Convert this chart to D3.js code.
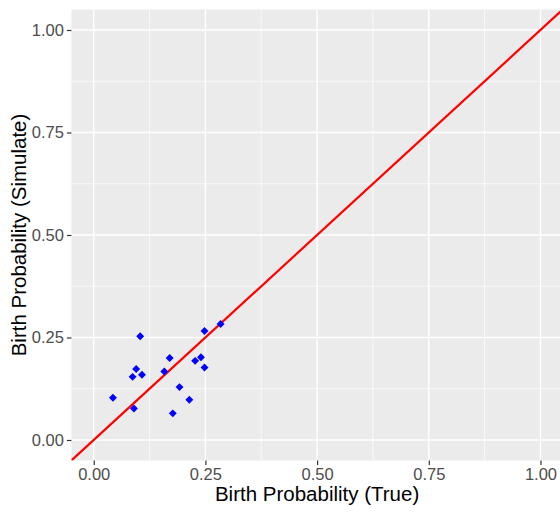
<!DOCTYPE html>
<html>
<head>
<meta charset="utf-8">
<script src="https://cdn.jsdelivr.net/npm/d3@7"></script>
<style>
  body { margin: 0; background: #fff; }
  text { font-family: "Liberation Sans", Arial, Helvetica, sans-serif; }
</style>
</head>
<body>
<div id="chart"></div>
<script>
// birth probability: true vs simulated
const trueProb = [0.043, 0.090, 0.104, 0.095, 0.087, 0.108, 0.170, 0.158, 0.192, 0.177, 0.214, 0.248, 0.284, 0.227, 0.240, 0.248];
const simProb  = [0.103, 0.077, 0.253, 0.173, 0.154, 0.159, 0.200, 0.167, 0.129, 0.065, 0.098, 0.266, 0.283, 0.193, 0.202, 0.177];
const tickValues = [0, 0.25, 0.5, 0.75, 1];
const minorValues = [0.125, 0.375, 0.625, 0.875];

const width = 560, height = 512;
const svg = d3.select("#chart").append("svg")
  .attr("width", width)
  .attr("height", height);

const x = d3.scaleLinear().domain([-0.05, 1.05]).range([71.4, 562.8]);
const y = d3.scaleLinear().domain([-0.05, 1.05]).range([460.5, 9.5]);

const panel = svg.append("g");
panel.append("rect")
  .attr("x", x(-0.05)).attr("y", y(1.05))
  .attr("width", x(1.05) - x(-0.05))
  .attr("height", y(-0.05) - y(1.05))
  .attr("fill", "#ebebeb");

// minor grid
panel.selectAll(".minx").data(minorValues).join("line")
  .attr("x1", d => x(d)).attr("x2", d => x(d))
  .attr("y1", y(-0.05)).attr("y2", y(1.05))
  .attr("stroke", "#fff").attr("stroke-width", 0.7);
panel.selectAll(".miny").data(minorValues).join("line")
  .attr("y1", d => y(d)).attr("y2", d => y(d))
  .attr("x1", x(-0.05)).attr("x2", x(1.05))
  .attr("stroke", "#fff").attr("stroke-width", 0.7);

// major grid
panel.selectAll(".majx").data(tickValues).join("line")
  .attr("x1", d => x(d)).attr("x2", d => x(d))
  .attr("y1", y(-0.05)).attr("y2", y(1.05))
  .attr("stroke", "#fff").attr("stroke-width", 1.4);
panel.selectAll(".majy").data(tickValues).join("line")
  .attr("y1", d => y(d)).attr("y2", d => y(d))
  .attr("x1", x(-0.05)).attr("x2", x(1.05))
  .attr("stroke", "#fff").attr("stroke-width", 1.4);

// y = x reference line, clipped to panel
svg.append("clipPath").attr("id", "clip")
  .append("rect")
  .attr("x", x(-0.05)).attr("y", y(1.05))
  .attr("width", x(1.05) - x(-0.05))
  .attr("height", y(-0.05) - y(1.05));

panel.append("line")
  .attr("clip-path", "url(#clip)")
  .attr("x1", x(-0.05)).attr("y1", y(-0.05))
  .attr("x2", x(1.05)).attr("y2", y(1.05))
  .attr("stroke", "#ff0000").attr("stroke-width", 2.2);

// points
const pts = trueProb.map((d, i) => ({ t: d, s: simProb[i] }));
const diamond = d3.symbol().type(d3.symbolDiamond2).size(40);
panel.selectAll(".pt").data(pts).join("path")
  .attr("d", diamond)
  .attr("transform", d => `translate(${x(d.t)},${y(d.s)})`)
  .attr("fill", "#0000ff");

// axes
const fmt = d3.format(".2f");
const xAxis = svg.append("g")
  .attr("transform", `translate(0,${y(-0.05)})`)
  .call(d3.axisBottom(x).tickValues(tickValues).tickFormat(fmt).tickSize(4.5).tickPadding(3));
const yAxis = svg.append("g")
  .attr("transform", `translate(${x(-0.05)},0)`)
  .call(d3.axisLeft(y).tickValues(tickValues).tickFormat(fmt).tickSize(4.5).tickPadding(3));

[xAxis, yAxis].forEach(a => {
  a.select(".domain").remove();
  a.selectAll(".tick line").attr("stroke", "#333333").attr("stroke-width", 1.2);
  a.selectAll(".tick text")
    .attr("fill", "#4d4d4d")
    .style("font-size", "16.5px")
    .style("font-family", "'Liberation Sans', Arial, sans-serif");
});

// titles
svg.append("text")
  .attr("x", (x(-0.05) + x(1.05)) / 2)
  .attr("y", 501)
  .attr("text-anchor", "middle")
  .style("font-size", "20.5px")
  .attr("fill", "#000")
  .text("Birth Probability (True)");

svg.append("text")
  .attr("transform", `translate(26,${(y(-0.05) + y(1.05)) / 2}) rotate(-90)`)
  .attr("text-anchor", "middle")
  .style("font-size", "20.5px")
  .attr("fill", "#000")
  .text("Birth Probability (Simulate)");
</script>
</body>
</html>
